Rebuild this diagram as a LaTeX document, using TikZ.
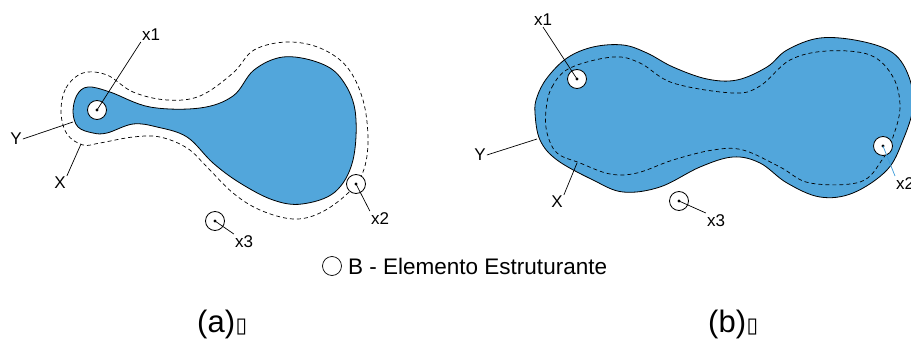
\documentclass[tikz,border=0pt]{standalone}
\usepackage{fontspec}
\setmainfont{Liberation Sans}
\newfontfamily\dejavu{DejaVu Sans}
\definecolor{fillblue}{HTML}{52A6DB}
\definecolor{lineblue}{HTML}{3A9AD9}
\tikzset{
  region/.style={fill=fillblue, draw=black, line width=0.8pt},
  dilated/.style={draw=black, dashed, dash pattern=on 4pt off 3pt, line width=0.7pt},
  probe/.style={circle, draw=black, fill=white, line width=0.8pt, minimum size=19pt, inner sep=0pt},
  dotmark/.style={circle, fill=black, minimum size=3.2pt, inner sep=0pt},
  lbl/.style={font=\fontsize{17}{20}\selectfont, inner sep=1pt},
  leader/.style={draw=black, line width=0.7pt},
  caption/.style={font=\fontsize{31}{36}\selectfont, inner sep=0pt}
}
\begin{document}
\begin{tikzpicture}[x=1pt,y=-1pt]
\useasboundingbox (0,0) rectangle (911,340);

% ---------------- (a) dilation ----------------
\draw[dilated] plot[smooth cycle, tension=0.6] coordinates {
  (61,112) (66,88) (83,73) (107,75) (133,92) (167,100) (200,96) (233,73)
  (254,50) (287,42) (320,48) (347,67) (363,100) (368,140) (363,172)
  (347,194) (320,213) (293,219) (260,210) (233,193) (207,167) (187,148)
  (160,137) (133,137) (100,143) (83,145) (67,134)};
\draw[region] plot[smooth cycle, tension=0.6] coordinates {
  (73,112) (77,95) (88,87) (110,92) (150,107) (200,108) (233,96) (254,70)
  (283,57) (317,62) (340,77) (355,110) (353,160) (335,192) (302,204)
  (273,200) (240,183) (213,163) (187,137) (157,127) (133,124) (107,133)
  (93,133) (78,127)};

\node[probe] (a1) at (97,110) {};
\node[dotmark] at (a1.center) {};
\node[lbl, anchor=south] (a1l) at (151,42) {x1};
\draw[leader] (a1.center) -- (a1l.south west);

\node[probe] (a2) at (356,184) {};
\node[dotmark] at (a2.center) {};
\node[lbl, anchor=north] (a2l) at (380,211) {x2};
\draw[leader] (a2.center) -- (a2l.north west);

\node[probe] (a3) at (215,221) {};
\node[dotmark] at (a3.center) {};
\node[lbl, anchor=north] (a3l) at (244,234) {x3};
\draw[leader] (a3.center) -- (a3l.north west);

\node[lbl] (aY) at (16,139) {Y};
\coordinate (aYe) at (73,122);
\draw[leader] (aY.east) -- (aYe);
\node[lbl] (aX) at (60,183) {X};
\coordinate (aXe) at (81,144);
\draw[leader] (aX.north east) -- (aXe);

% legend
\node[circle, draw=black, line width=0.7pt, minimum size=19pt, inner sep=0pt] (leg) at (332,266) {};
\node[anchor=west, font=\fontsize{22.5}{26}\selectfont, inner sep=0pt] (legt) at (348,266) {B - Elemento Estruturante};

\node[caption, anchor=west] (capa) at (197,324) {(a)\hspace{0.5pt}{\dejavu\fontsize{21}{26}\selectfont ▯}};

% ---------------- (b) erosion ----------------
\draw[region] plot[smooth cycle, tension=0.6] coordinates {
  (535,113) (540,140) (557,160) (593,180) (623,192) (660,187) (700,167)
  (733,157) (760,163) (787,183) (820,197) (853,193) (887,170) (903,140)
  (913,107) (909,77) (893,53) (860,41) (820,38) (787,50) (767,67)
  (737,80) (707,79) (673,67) (647,53) (623,45) (593,47) (567,58)
  (547,78) (537,97)};
\draw[dilated] plot[smooth cycle, tension=0.6] coordinates {
  (546,110) (552,87) (570,68) (613,57) (640,63) (673,83) (733,93)
  (760,86) (790,60) (827,51) (870,55) (893,77) (900,107) (893,137)
  (882,160) (860,182) (810,183) (780,167) (743,150) (713,150)
  (673,160) (637,173) (610,174) (580,163) (557,153) (547,133)};

\node[probe] (b1) at (577,79) {};
\node[dotmark] at (b1.center) {};
\node[lbl, anchor=south] (b1l) at (543,27) {x1};
\draw[leader] (b1.center) -- (b1l.south);

\node[probe] (b2) at (883,146) {};
\node[dotmark] at (b2.center) {};
\node[lbl, anchor=north west] (b2l) at (895,176) {x2};
\draw[leader, draw=lineblue] (b2.center) -- (b2l.north west);

\node[probe] (b3) at (679,201) {};
\node[dotmark] at (b3.center) {};
\node[lbl, anchor=north] (b3l) at (716,213) {x3};
\draw[leader] (b3.center) -- (b3l.north west);

\node[lbl] (bY) at (480,155) {Y};
\coordinate (bYe) at (537,139);
\draw[leader] (bY.east) -- (bYe);
\node[lbl] (bX) at (557,202) {X};
\coordinate (bXe) at (577,163);
\draw[leader] (bX.north east) -- (bXe);

\node[caption, anchor=west] (capb) at (708,324) {(b)\hspace{0.5pt}{\dejavu\fontsize{21}{26}\selectfont ▯}};
\end{tikzpicture}
\end{document}
